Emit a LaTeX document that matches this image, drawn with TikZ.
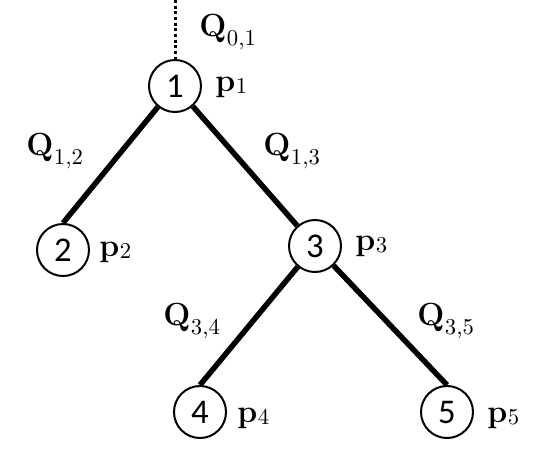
\documentclass[tikz,border=0pt]{standalone}
\usepackage{fontspec}
\usepackage{tikz}
\usetikzlibrary{positioning}
\newfontfamily\digitfont{Carlito}
\newfontfamily\indexfont{lmroman10-regular.otf}
% bold letter with a lowered plain index
\newcommand{\flowlab}[2]{\textbf{#1}\kern0.5pt\raisebox{-0.30em}{\indexfont\fontsize{17}{17}\selectfont #2}}
\newcommand{\demlab}[2]{\textbf{#1}\kern0.5pt\raisebox{-0.08em}{\indexfont\fontsize{17}{17}\selectfont #2}}

\tikzset{
    vertex/.style={circle, draw, line width=1.5pt, minimum size=39pt, inner sep=0pt,
        font=\digitfont\fontsize{26}{30}\selectfont},
    branch/.style={line width=4.1pt},
    weight/.style={anchor=base west, inner sep=0pt, font=\fontsize{24}{28}\selectfont},
}

\begin{document}
\begin{tikzpicture}[x=0.75pt, y=-0.75pt]
    \useasboundingbox (0,0) rectangle (546,458);
    % vertices
    \node[vertex] (n1) at (175, 86) {1};
    \node[vertex] (n2) at ( 63,250) {2};
    \node[vertex] (n3) at (315,246) {3};
    \node[vertex] (n4) at (200,412) {4};
    \node[vertex] (n5) at (447,412) {5};
    \coordinate (root) at (175,0);
    % branches
    \draw[line width=2.25pt, dotted] (root) -- (n1);
    \draw[branch] (n1) -- (n2.north);
    \draw[branch] (n1) -- (n3);
    \draw[branch] (n3) -- (n4.north);
    \draw[branch] (n3) -- (n5.north);
    % flows and demands
    \node[weight] (q01) at (199, 36) {\flowlab{Q}{0,1}};
    \node[weight] (q12) at ( 26,155) {\flowlab{Q}{1,2}};
    \node[weight] (q13) at (263,155) {\flowlab{Q}{1,3}};
    \node[weight] (q34) at (163,325) {\flowlab{Q}{3,4}};
    \node[weight] (q35) at (417,325) {\flowlab{Q}{3,5}};
    \node[weight] (p1) at (215, 91) {\demlab{p}{1}};
    \node[weight] (p2) at ( 99,256) {\demlab{p}{2}};
    \node[weight] (p3) at (355,250) {\demlab{p}{3}};
    \node[weight] (p4) at (237,422) {\demlab{p}{4}};
    \node[weight] (p5) at (487,422) {\demlab{p}{5}};
\end{tikzpicture}
\end{document}
